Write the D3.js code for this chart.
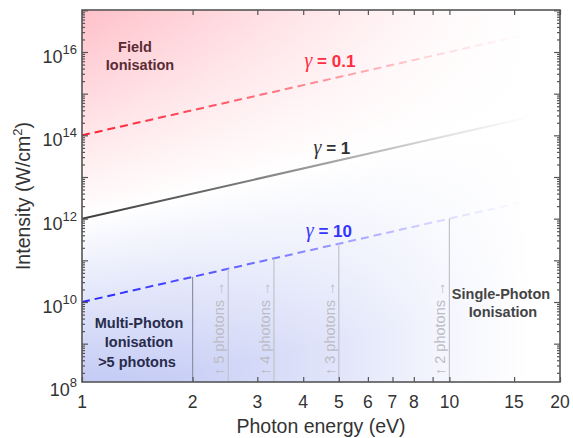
<!DOCTYPE html>
<html>
<head>
<meta charset="utf-8">
<script src="https://cdn.jsdelivr.net/npm/d3@7"></script>
<style>
    body { margin: 0; background: #fff; }
    text { font-family: "Liberation Sans", Arial, sans-serif; }
</style>
</head>
<body>
<div id="holder"></div>
<script>
// x axis: photon energy (eV), log
const energyTicks = [1, 2, 3, 4, 5, 6, 7, 8, 10, 15, 20];
const energyMinorTicks = [9];
// y axis: intensity (W/cm^2), log
const labelExponents = [8, 10, 12, 14, 16];
const decadeExponents = [8, 9, 10, 11, 12, 13, 14, 15, 16, 17];

// Keldysh lines (read at both ends)
const lineEnergy = [1, 17];
const gamma01Intensity = [1e14, 2.9e16];
const gamma1Intensity = [1e12, 2.9e14];
const gamma10Intensity = [1e10, 2.9e12];
const gammaLabels = ["0.1", "1", "10"];

// n-photon thresholds, each line runs up to the gamma = 10 line
const thresholdEnergy = [2, 2.5, 3.33, 5, 10];
const thresholdTop = [4e10, 6.25e10, 1.1e11, 2.5e11, 1e12];
const photonLabels = ["", "5 photons", "4 photons", "3 photons", "2 photons"];

const w = 573, h = 438;
const plotL = 82, plotR = 560, plotT = 10, plotB = 382;

const svg = d3.select('#holder')
    .append('svg')
    .attr('width', w)
    .attr('height', h);

const x = d3.scaleLog().domain([1, 20]).range([plotL, plotR]);
const y = d3.scaleLog().domain([Math.pow(10, 8.08), Math.pow(10, 17.008)]).range([plotB, plotT]);

const defs = svg.append('defs');
defs.append('clipPath').attr('id', 'plot')
    .append('rect')
    .attr('x', plotL).attr('y', plotT)
    .attr('width', plotR - plotL).attr('height', plotB - plotT);

// background: pink above gamma=1, blue below ...
const ax = x(1), ay = y(1e12);
const ddx = x(10) - x(1), ddy = y(1e14) - y(1e12);
const len = Math.hypot(ddx, ddy);
const nx = -ddy / len, ny = ddx / len;
const before = 230, after = 175;
const bg = defs.append('linearGradient').attr('id', 'bgDiag')
    .attr('gradientUnits', 'userSpaceOnUse')
    .attr('x1', ax - before * nx).attr('y1', ay - before * ny)
    .attr('x2', ax + after * nx).attr('y2', ay + after * ny);
bg.append('stop').attr('offset', 0).attr('stop-color', '#ffb8c2');
bg.append('stop').attr('offset', before / (before + after)).attr('stop-color', '#ffffff');
bg.append('stop').attr('offset', 1).attr('stop-color', '#bec6f4');

// ... and everything washed out towards white on the right
const fade = defs.append('linearGradient').attr('id', 'fadeX')
    .attr('gradientUnits', 'userSpaceOnUse')
    .attr('x1', plotL).attr('y1', 0).attr('x2', 530).attr('y2', 0);
[[0, 0], [0.25, 0.2], [0.55, 0.52], [0.8, 0.83], [1, 1]].forEach(s => {
    fade.append('stop').attr('offset', s[0]).attr('stop-color', '#fff').attr('stop-opacity', s[1]);
});

const plot = svg.append('g').attr('clip-path', 'url(#plot)');
plot.append('rect')
    .attr('x', plotL).attr('y', plotT)
    .attr('width', plotR - plotL).attr('height', plotB - plotT)
    .style('fill', 'url(#bgDiag)');

// gamma lines
const lineColors = ['#ff1f33', '#3c3c3c', '#2424ff'];
const lineSeries = [gamma01Intensity, gamma1Intensity, gamma10Intensity];
const lineGen = d3.line().x(d => x(d[0])).y(d => y(d[1]));

lineSeries.forEach((series, k) => {
    plot.append('path')
        .datum(lineEnergy.map((e, i) => [e, series[i]]))
        .attr('d', lineGen)
        .style('fill', 'none')
        .style('stroke', lineColors[k])
        .style('stroke-width', 2)
        .style('stroke-dasharray', k === 1 ? null : '8,5');
});

plot.append('rect')
    .attr('x', plotL).attr('y', plotT)
    .attr('width', plotR - plotL).attr('height', plotB - plotT)
    .style('fill', 'url(#fadeX)');

// threshold verticals
plot.selectAll('line.threshold')
    .data(thresholdEnergy)
    .enter()
    .append('line')
    .attr('class', 'threshold')
    .attr('x1', d => x(d)).attr('x2', d => x(d))
    .attr('y1', plotB)
    .attr('y2', (d, i) => y(thresholdTop[i]))
    .style('stroke', (d, i) => i === 0 ? '#8c91a6' : '#c2c2ca')
    .style('stroke-width', 1.2);

plot.selectAll('text.photons')
    .data(thresholdEnergy.slice(1))
    .enter()
    .append('text')
    .attr('class', 'photons')
    .attr('transform', d => `translate(${x(d) - 4},${plotB - 7}) rotate(-90)`)
    .style('font-size', '14.5px')
    .style('fill', '#bcbcc4')
    .text((d, i) => `\u2191 ${photonLabels[i + 1]} \u2192`);

// gamma labels
const gammaPos = [[4.73, 67], [4.79, 154], [4.7, 237]];
const gammaTextColors = ['#ff2d3f', '#333333', '#3535ff'];
gammaLabels.forEach((lab, k) => {
    const t = svg.append('text')
        .attr('x', x(gammaPos[k][0]))
        .attr('y', gammaPos[k][1])
        .style('text-anchor', 'middle')
        .style('font-size', '17px')
        .style('font-weight', 'bold')
        .style('fill', gammaTextColors[k]);
    t.append('tspan')
        .style('font-family', '"Liberation Serif", "DejaVu Serif", serif')
        .style('font-weight', 'normal')
        .style('font-style', 'italic')
        .style('font-size', '20px')
        .text('\u03b3');
    t.append('tspan').text(' = ' + lab);
});

// region labels
function block(lines, cx, baselines, color) {
    lines.forEach((s, i) => {
        svg.append('text')
            .attr('x', cx[i])
            .attr('y', baselines[i])
            .style('text-anchor', 'middle')
            .style('font-size', '14.5px')
            .style('font-weight', 'bold')
            .style('fill', color)
            .text(s);
    });
}
block(['Field', 'Ionisation'], [135, 140], [51.5, 70], '#5a2c34');
block(['Multi-Photon', 'Ionisation', '>5 photons'], [139, 139, 137], [328, 346.5, 366.5], '#282b4b');
block(['Single-Photon', 'Ionisation'], [501, 503], [299, 317], '#444444');

// axes: inward ticks on all four sides
const minorY = [];
decadeExponents.forEach(e => {
    for (let m = 2; m <= 9; m++) minorY.push(m * Math.pow(10, e));
});
const inside = v => y(v) >= plotT && y(v) <= plotB + 0.5;
const majorY = decadeExponents.map(e => Math.pow(10, e)).filter(inside);
const minorIn = minorY.filter(inside);
const allX = energyTicks.concat(energyMinorTicks);

function ticks(axis, transform) {
    const g = svg.append('g').attr('transform', transform).call(axis);
    g.select('.domain').remove();
    g.selectAll('line').style('stroke', '#555').style('stroke-width', 1.2);
    g.selectAll('text').remove();
    return g;
}
ticks(d3.axisBottom(x).tickValues(allX).tickSize(-5), `translate(0,${plotB})`);
ticks(d3.axisTop(x).tickValues(allX).tickSize(-5), `translate(0,${plotT})`);
ticks(d3.axisLeft(y).tickValues(majorY).tickSize(-6), `translate(${plotL},0)`);
ticks(d3.axisLeft(y).tickValues(minorIn).tickSize(-3), `translate(${plotL},0)`);
ticks(d3.axisRight(y).tickValues(majorY).tickSize(-6), `translate(${plotR},0)`);
ticks(d3.axisRight(y).tickValues(minorIn).tickSize(-3), `translate(${plotR},0)`);

svg.append('rect')
    .attr('x', plotL).attr('y', plotT)
    .attr('width', plotR - plotL).attr('height', plotB - plotT)
    .style('fill', 'none')
    .style('stroke', '#555')
    .style('stroke-width', 1.6);

// tick labels
svg.selectAll('text.xlab')
    .data(energyTicks)
    .enter()
    .append('text')
    .attr('class', 'xlab')
    .attr('x', d => x(d))
    .attr('y', 408)
    .style('text-anchor', 'middle')
    .style('font-size', '17.5px')
    .style('fill', '#333')
    .text(d => d);

svg.selectAll('text.ylab')
    .data(labelExponents)
    .enter()
    .append('text')
    .attr('class', 'ylab')
    .attr('x', 77)
    .attr('y', d => Math.min(y(Math.pow(10, d)), 386) + 11)
    .style('text-anchor', 'end')
    .style('font-size', '18px')
    .style('fill', '#333')
    .call(t => {
        t.append('tspan').text('10');
        t.append('tspan')
            .attr('dy', -9)
            .style('font-size', '13px')
            .text(d => d);
    });

// axis titles
svg.append('text')
    .attr('x', (plotL + plotR) / 2)
    .attr('y', 433)
    .style('text-anchor', 'middle')
    .style('font-size', '19.5px')
    .style('fill', '#333')
    .text('Photon energy (eV)');

svg.append('text')
    .attr('transform', `translate(30,${(plotT + plotB) / 2}) rotate(-90)`)
    .style('text-anchor', 'middle')
    .style('font-size', '19.5px')
    .style('fill', '#333')
    .call(t => {
        t.append('tspan').text('Intensity (W/cm');
        t.append('tspan').attr('dy', -8).style('font-size', '13px').text('2');
        t.append('tspan').attr('dy', 8).text(')');
    });
</script>
</body>
</html>
